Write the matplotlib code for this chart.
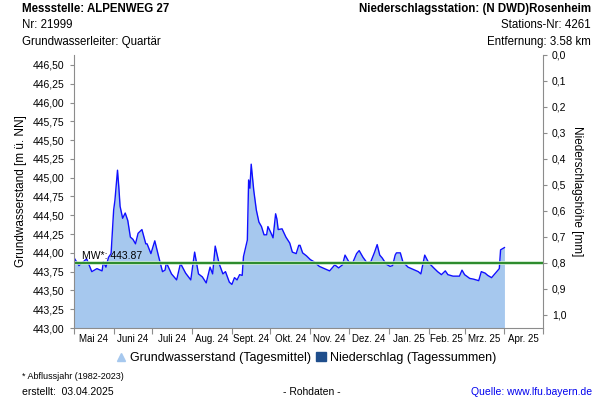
import numpy as np
import pandas as pd
import matplotlib
matplotlib.use('Agg')
import matplotlib.pyplot as plt
import matplotlib.dates as mdates
from matplotlib.lines import Line2D
from matplotlib.patches import Patch

plt.rcParams['font.family'] = ['Liberation Sans', 'DejaVu Sans']

# Tage seit 01.05.2024 und Grundwasserstand (Tagesmittel) in m ue. NN
tage = [0, 4, 6, 10, 14, 18, 22, 23, 25, 27, 29, 31, 32, 34, 35, 36, 38, 40,
        42, 44, 46, 48, 50, 53, 56, 57, 60, 63, 66, 69, 71, 72, 76, 80, 83,
        87, 91, 94, 97, 100, 103, 106, 108, 110, 113, 116, 118, 121, 123,
        125, 127, 129, 131, 132, 135, 136, 137, 138, 140, 142, 144, 146, 148,
        150, 151, 153, 155, 157, 158, 159, 162, 165, 168, 170, 173, 175, 176,
        178, 181, 184, 187, 191, 195, 199, 203, 206, 209, 211, 214, 217, 220,
        222, 225, 228, 231, 234, 236, 238, 240, 243, 246, 248, 250, 251, 254,
        256, 260, 264, 268, 270, 273, 276, 280, 283, 286, 289, 291, 295, 300,
        302, 304, 308, 311, 315, 317, 320, 322, 325, 328, 331, 332, 335]
stand = [443.94, 443.83, 443.86, 443.92, 443.75, 443.79, 443.76, 443.88,
         443.81, 443.94, 443.99, 444.57, 444.70, 445.10, 444.88, 444.62,
         444.46, 444.53, 444.43, 444.21, 444.18, 444.12, 444.26, 444.31,
         444.12, 444.12, 443.99, 444.16, 443.95, 443.75, 443.77, 443.87,
         443.72, 443.64, 443.86, 443.73, 443.64, 444.01, 443.72, 443.68,
         443.60, 443.81, 443.72, 444.09, 443.86, 443.72, 443.75, 443.61,
         443.58, 443.67, 443.64, 443.71, 443.70, 443.95, 444.17, 444.97,
         444.86, 445.18, 444.83, 444.57, 444.41, 444.35, 444.24, 444.24,
         444.35, 444.28, 444.20, 444.52, 444.45, 444.31, 444.32, 444.21,
         444.13, 444.01, 443.99, 444.10, 444.10, 444.00, 443.96, 443.91,
         443.88, 443.82, 443.79, 443.76, 443.84, 443.80, 443.84, 443.97,
         443.88, 443.87, 443.99, 444.03, 443.94, 443.87, 443.88, 444.01,
         444.11, 443.97, 443.93, 443.85, 443.82, 443.83, 443.97, 444.00,
         444.00, 443.88, 443.81, 443.78, 443.75, 443.72, 443.97, 443.87,
         443.80, 443.75, 443.71, 443.76, 443.71, 443.69, 443.69, 443.77,
         443.71, 443.66, 443.65, 443.63, 443.75, 443.73, 443.70, 443.67,
         443.73, 443.79, 444.04, 444.07]
mittelwert = 443.87

monate = ['Mai 24', 'Juni 24', 'Juli 24', 'Aug. 24', 'Sept. 24', 'Okt. 24',
          'Nov. 24', 'Dez. 24', 'Jan. 25', 'Feb. 25', 'Mrz. 25', 'Apr. 25']
gw_ticks = [443.00, 443.25, 443.50, 443.75, 444.00, 444.25, 444.50, 444.75,
            445.00, 445.25, 445.50, 445.75, 446.00, 446.25, 446.50]
ns_ticks = [0.0, 0.1, 0.2, 0.3, 0.4, 0.5, 0.6, 0.7, 0.8, 0.9, 1.0]

start = pd.Timestamp('2024-05-01')
datum = start + pd.to_timedelta(tage, unit='D')

fig = plt.figure(figsize=(6, 4), dpi=100)
ax = fig.add_axes([0.123, 0.18, 0.782, 0.6825])
grau = '#8c8c8c'

ax.fill_between(datum, 443.0, stand, color='#a6c8ee', lw=0)
ax.plot(datum, stand, color='#1010ff', lw=1)
ax.axhline(mittelwert, color='#c4e6c4', lw=2.6)
ax.axhline(mittelwert, color='#117a11', lw=1.2)
ax.text(start + pd.Timedelta(days=6), mittelwert + 0.015, 'MW*: 443.87',
        fontsize=7.5, va='bottom')

ax.set_ylim(443.0, 446.633)
ax.set_xlim(start, pd.Timestamp('2025-05-01'))
ax.set_yticks(gw_ticks)
ax.set_yticklabels([f'{v:.2f}'.replace('.', ',') for v in gw_ticks])

monat_start = pd.date_range('2024-05-01', '2025-05-01', freq='MS')
ax.set_xticks(monat_start)
ax.set_xticklabels([])
mitten = monat_start[:-1] + (monat_start[1:] - monat_start[:-1]) / 2
ax.set_xticks(mitten, minor=True)
ax.set_xticklabels(monate, minor=True, fontsize=7)
ax.tick_params(axis='x', which='minor', length=0, pad=4)
ax.tick_params(axis='x', which='major', length=4, color=grau)
ax.tick_params(axis='y', labelsize=7.5, length=3, color=grau)
ax.set_ylabel('Grundwasserstand [m ü. NN]', fontsize=8.5, labelpad=4)

for s in ['left', 'bottom']:
    ax.spines[s].set_color(grau)
ax.spines['top'].set_visible(False)
ax.spines['right'].set_visible(False)

ax2 = ax.twinx()
ax2.set_ylim(1.0515, 0.0)
ax2.set_yticks(ns_ticks)
ax2.set_yticklabels([f'{v:.1f}'.replace('.', ',') for v in ns_ticks])
ax2.tick_params(axis='y', labelsize=7.5, length=3, color=grau)
for s in ['left', 'top', 'bottom']:
    ax2.spines[s].set_visible(False)
ax2.spines['right'].set_color(grau)
ax2.set_ylabel('Niederschlagshöhe [mm]', fontsize=8.5, rotation=-90,
               labelpad=12)

# Kopfzeilen
kopf = dict(fontsize=8.3, va='center')
fig.text(0.037, 0.9775, 'Messstelle: ALPENWEG 27', fontweight='bold', **kopf)
fig.text(0.037, 0.9375, 'Nr: 21999', **kopf)
fig.text(0.037, 0.895, 'Grundwasserleiter: Quartär', **kopf)
fig.text(0.985, 0.9775, 'Niederschlagsstation: (N DWD)Rosenheim',
         fontweight='bold', ha='right', **kopf)
fig.text(0.985, 0.9375, 'Stations-Nr: 4261', ha='right', **kopf)
fig.text(0.985, 0.895, 'Entfernung: 3.58 km', ha='right', **kopf)

# Legende
griffe = [Line2D([], [], marker='^', ls='', color='#a6c8ee', markersize=6),
          Patch(color='#1f4e8c')]
fig.legend(griffe, ['Grundwasserstand (Tagesmittel)',
                    'Niederschlag (Tagessummen)'],
           loc='center', bbox_to_anchor=(0.51, 0.105), ncol=2, frameon=False,
           fontsize=9, handlelength=0.8, handletextpad=0.3, columnspacing=0.4)

# Fusszeilen
fig.text(0.037, 0.058, '* Abflussjahr (1982-2023)', fontsize=6.5, va='center')
fig.text(0.037, 0.02, 'erstellt:  03.04.2025', fontsize=7.5, va='center')
fig.text(0.52, 0.02, '- Rohdaten -', fontsize=7.5, va='center', ha='center')
fig.text(0.987, 0.02, 'Quelle: www.lfu.bayern.de', fontsize=7.5, va='center',
         ha='right', color='#0000ee')

fig.savefig('out.png', dpi=100)
